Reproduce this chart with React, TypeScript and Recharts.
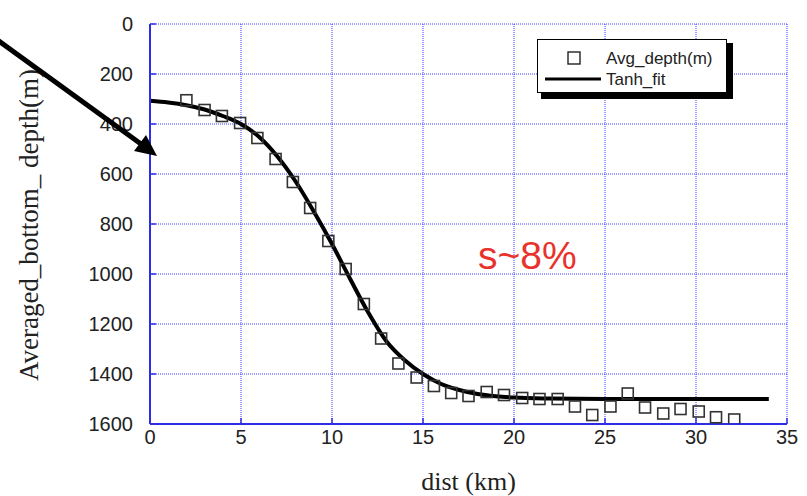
import React from 'react';
import { ComposedChart, XAxis, YAxis, CartesianGrid, Line, Scatter, Legend } from 'recharts';

const xTicks = [0, 5, 10, 15, 20, 25, 30, 35];
const yTicks = [0, 200, 400, 600, 800, 1000, 1200, 1400, 1600];

const avgDist = [2, 3, 3.95, 4.95, 5.9, 6.9, 7.85, 8.8, 9.8, 10.75, 11.75, 12.7, 13.65, 14.65, 15.6, 16.55, 17.5, 18.5, 19.45, 20.45, 21.4, 22.4, 23.35, 24.3, 25.3, 26.25, 27.2, 28.2, 29.15, 30.15, 31.1, 32.1];
const avgDepth = [305, 344, 368, 396, 456, 540, 632, 736, 868, 980, 1120, 1258, 1358, 1414, 1448, 1476, 1488, 1472, 1484, 1496, 1500, 1500, 1530, 1564, 1530, 1478, 1534, 1558, 1540, 1550, 1573, 1582];

const fitDist = [0, 1, 2, 3, 4, 5, 6, 7, 8, 9, 10, 11, 12, 13, 14, 15, 16, 17, 18, 19, 20, 22, 25, 30, 34];
const fitDepth = [307, 314, 325, 342, 368, 400, 452, 530, 630, 750, 880, 1020, 1155, 1270, 1345, 1400, 1440, 1464, 1480, 1489, 1494, 1498, 1500, 1500, 1500];

const avgData = avgDist.map((d, i) => ({ dist: d, depth: avgDepth[i] }));
const fitData = fitDist.map((d, i) => ({ dist: d, depth: fitDepth[i] }));

const BLUE = '#2e2ee8';
const GRID = '#3c3cff';
const TICK_FONT = { fontFamily: '"Liberation Sans", Arial, sans-serif', fontSize: 20, fill: '#222' };

const SquareShape = (props: any) => {
  const { cx, cy } = props;
  if (cx == null || cy == null) return null;
  return <rect x={cx - 5.5} y={cy - 5.5} width={11} height={11} fill="none" stroke="#333" strokeWidth={1.6} />;
};

const LegendBox = () => (
  <div style={{ position: 'relative', width: 196, height: 60 }}>
    <div style={{ position: 'absolute', left: 4, top: 4, width: 192, height: 56, background: '#000' }} />
    <div style={{ position: 'absolute', left: 0, top: 0, width: 190, height: 54, background: '#fff', border: '1px solid #000', boxSizing: 'border-box' }} />
    <svg style={{ position: 'absolute', left: 0, top: 0 }} width={196} height={60}>
      <rect x={31} y={13} width={12} height={12} fill="none" stroke="#222" strokeWidth={1.4} />
      <line x1={8} y1={40} x2={64} y2={40} stroke="#000" strokeWidth={3} />
      <text x={69} y={25} fontFamily='"Liberation Sans", Arial, sans-serif' fontSize={17} fill="#222">Avg_depth(m)</text>
      <text x={69} y={46} fontFamily='"Liberation Sans", Arial, sans-serif' fontSize={17} fill="#222">Tanh_fit</text>
    </svg>
  </div>
);

export default function App() {
  return (
    <div style={{ position: 'absolute', left: 0, top: 0, width: 807, height: 496, background: '#fff' }}>
      <ComposedChart width={807} height={496} margin={{ top: 24, right: 20, bottom: 42, left: 90 }}>
        <CartesianGrid stroke={GRID} strokeDasharray="1 1" strokeWidth={1} verticalValues={xTicks} horizontalValues={yTicks} xAxisId="bottom" yAxisId="left" />
        <XAxis
          xAxisId="bottom"
          type="number"
          dataKey="dist"
          domain={[0, 35]}
          ticks={xTicks}
          height={30}
          stroke={BLUE}
          axisLine={{ stroke: BLUE, strokeWidth: 2 }}
          tickLine={{ stroke: BLUE, strokeWidth: 1.5 }}
          tickSize={-6}
          tickMargin={12}
          tick={TICK_FONT}
          allowDataOverflow
          label={{
            value: 'dist (km)',
            position: 'bottom',
            offset: 18,
            style: { fontFamily: '"Liberation Serif", "Times New Roman", serif', fontSize: 26, fill: '#222' },
          }}
        />
        <XAxis
          xAxisId="top"
          orientation="top"
          type="number"
          dataKey="dist"
          domain={[0, 35]}
          ticks={xTicks}
          height={0}
          stroke={BLUE}
          axisLine={{ stroke: BLUE, strokeWidth: 2 }}
          tickLine={{ stroke: BLUE, strokeWidth: 1.5 }}
          tickSize={-6}
          tick={false}
        />
        <YAxis
          yAxisId="left"
          type="number"
          dataKey="depth"
          domain={[0, 1600]}
          ticks={yTicks}
          reversed
          width={60}
          stroke={BLUE}
          axisLine={{ stroke: BLUE, strokeWidth: 2 }}
          tickLine={{ stroke: BLUE, strokeWidth: 1.5 }}
          tickSize={-6}
          tickMargin={23}
          tick={TICK_FONT}
          allowDataOverflow
        />
        <YAxis
          yAxisId="right"
          orientation="right"
          type="number"
          dataKey="depth"
          domain={[0, 1600]}
          ticks={yTicks}
          reversed
          width={0}
          stroke={BLUE}
          axisLine={{ stroke: BLUE, strokeWidth: 2 }}
          tickLine={{ stroke: BLUE, strokeWidth: 1.5 }}
          tickSize={-6}
          tick={false}
        />
        <Legend
          layout="horizontal"
          verticalAlign="middle"
          align="center"
          wrapperStyle={{ position: 'absolute', left: 537, top: 39, width: 196, height: 60 }}
          content={() => <LegendBox />}
        />
        <Line
          xAxisId="bottom"
          yAxisId="left"
          data={fitData}
          dataKey="depth"
          type="monotone"
          stroke="#000"
          strokeWidth={4}
          dot={false}
          activeDot={false}
          isAnimationActive={false}
          name="Tanh_fit"
        />
        <Scatter
          xAxisId="bottom"
          yAxisId="left"
          data={avgData}
          dataKey="depth"
          shape={SquareShape}
          isAnimationActive={false}
          name="Avg_depth(m)"
        />
      </ComposedChart>
      <svg style={{ position: 'absolute', left: 0, top: 0, pointerEvents: 'none' }} width={807} height={496}>
        <text
          transform="translate(38,225) rotate(-90)"
          textAnchor="middle"
          fontFamily='"Liberation Serif", "Times New Roman", serif'
          fontSize={27}
          fill="#222"
        >
          Averaged_bottom_ depth(m)
        </text>
        <line x1={-4} y1={39} x2={141} y2={144} stroke="#000" strokeWidth={5} />
        <polygon points="157,156 134,151 146,135" fill="#000" />
        <text x={478} y={269} fontFamily='"Liberation Sans", Arial, sans-serif' fontSize={39} fill="#e8322c">
          s~8%
        </text>
      </svg>
    </div>
  );
}
